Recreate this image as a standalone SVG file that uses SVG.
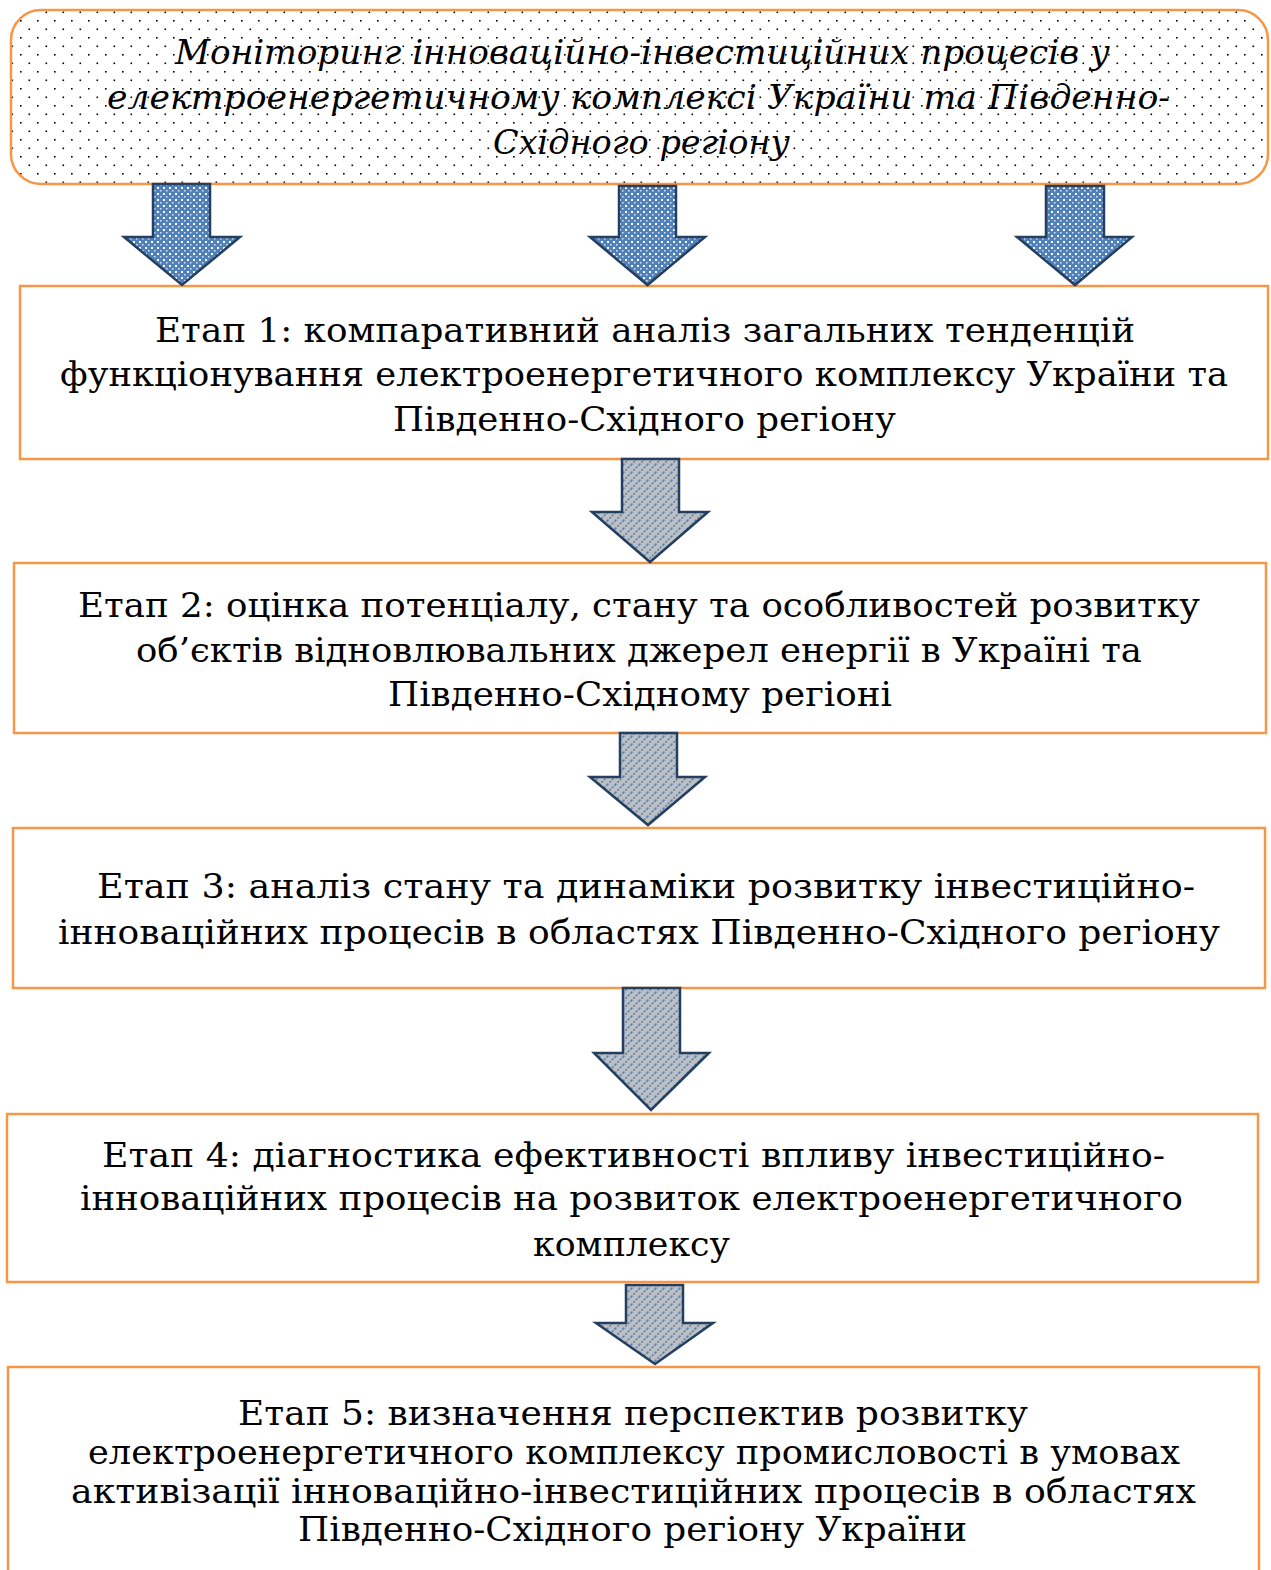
<svg xmlns="http://www.w3.org/2000/svg" width="1271" height="1570" viewBox="0 0 1271 1570">
<style>
.box{fill:#fff;stroke:#F79646;stroke-width:2.5}
.t{font-family:"DejaVu Serif","Liberation Serif",serif;font-size:33px;fill:#000}
.ti{font-family:"DejaVu Serif","Liberation Serif",serif;font-size:33px;font-style:italic;fill:#000}
.ab{fill:url(#pBlue);stroke:#243F60;stroke-width:2.5;stroke-linejoin:miter}
.ag{fill:url(#pGray);stroke:#243F60;stroke-width:2.5;stroke-linejoin:miter}
</style>
<defs>
<pattern id="pDots" width="17" height="17" patternUnits="userSpaceOnUse">
<rect width="17" height="17" fill="#fff"/>
<rect x="3" y="3" width="1.6" height="1.6" fill="#000"/>
<rect x="11.5" y="11.5" width="1.6" height="1.6" fill="#000"/>
</pattern>
<pattern id="pBlue" width="6" height="6" patternUnits="userSpaceOnUse">
<rect width="6" height="6" fill="#4F81BD"/>
<rect x="1" y="1" width="2" height="2" fill="#fff"/>
<rect x="4" y="4" width="1.5" height="1.5" fill="#DCE6F2"/>
</pattern>
<pattern id="pGray" width="8" height="8" patternUnits="userSpaceOnUse">
<rect width="8" height="8" fill="#BFBFBF"/>
<path d="M-1,9 L9,-1 M-1,1 L1,-1 M7,9 L9,7" stroke="#4F81BD" stroke-width="1.6" stroke-dasharray="2,1.5"/>
</pattern>
</defs>

<g id="node-top">
<rect x="11" y="10" width="1257" height="174" rx="30" ry="30" fill="url(#pDots)" stroke="#F79646" stroke-width="2.5"/>
<text class="ti" x="175" y="64" textLength="935" lengthAdjust="spacingAndGlyphs">Моніторинг інноваційно-інвестиційних процесів у</text>
<text class="ti" x="107" y="109" textLength="1063" lengthAdjust="spacingAndGlyphs">електроенергетичному комплексі України та Південно-</text>
<text class="ti" x="493" y="154" textLength="297" lengthAdjust="spacingAndGlyphs">Східного регіону</text>
</g>

<g id="node-stage1">
<rect class="box" x="20" y="286" width="1248" height="173"/>
<text class="t" x="155" y="342" textLength="980" lengthAdjust="spacingAndGlyphs">Етап 1: компаративний аналіз загальних тенденцій</text>
<text class="t" x="60" y="386" textLength="1168" lengthAdjust="spacingAndGlyphs">функціонування електроенергетичного комплексу України та</text>
<text class="t" x="393" y="431" textLength="503" lengthAdjust="spacingAndGlyphs">Південно-Східного регіону</text>
</g>

<g id="node-stage2">
<rect class="box" x="14" y="563" width="1252" height="170"/>
<text class="t" x="78" y="617" textLength="1122" lengthAdjust="spacingAndGlyphs">Етап 2: оцінка потенціалу, стану та особливостей розвитку</text>
<text class="t" x="136" y="662" textLength="1006" lengthAdjust="spacingAndGlyphs">об’єктів відновлювальних джерел енергії в Україні та</text>
<text class="t" x="388" y="706" textLength="504" lengthAdjust="spacingAndGlyphs">Південно-Східному регіоні</text>
</g>

<g id="node-stage3">
<rect class="box" x="13" y="828" width="1252" height="160"/>
<text class="t" x="97" y="898" textLength="1098" lengthAdjust="spacingAndGlyphs">Етап 3: аналіз стану та динаміки розвитку інвестиційно-</text>
<text class="t" x="58" y="944" textLength="1162" lengthAdjust="spacingAndGlyphs">інноваційних процесів в областях Південно-Східного регіону</text>
</g>

<g id="node-stage4">
<rect class="box" x="7" y="1114" width="1251" height="168"/>
<text class="t" x="102" y="1167" textLength="1063" lengthAdjust="spacingAndGlyphs">Етап 4: діагностика ефективності впливу інвестиційно-</text>
<text class="t" x="80" y="1210" textLength="1103" lengthAdjust="spacingAndGlyphs">інноваційних процесів на розвиток електроенергетичного</text>
<text class="t" x="533" y="1256" textLength="197" lengthAdjust="spacingAndGlyphs">комплексу</text>
</g>

<g id="node-stage5">
<rect class="box" x="8" y="1367" width="1251" height="215"/>
<text class="t" x="238" y="1425" textLength="790" lengthAdjust="spacingAndGlyphs">Етап 5: визначення перспектив розвитку</text>
<text class="t" x="88" y="1464" textLength="1092" lengthAdjust="spacingAndGlyphs">електроенергетичного комплексу промисловості в умовах</text>
<text class="t" x="71" y="1503" textLength="1125" lengthAdjust="spacingAndGlyphs">активізації інноваційно-інвестиційних процесів в областях</text>
<text class="t" x="298" y="1541" textLength="669" lengthAdjust="spacingAndGlyphs">Південно-Східного регіону України</text>
</g>

<g id="connectors">
<polygon class="ab" points="153,184 210,184 210,237 240,237 182,285 124,237 153,237"/>
<polygon class="ab" points="619,186 676,186 676,237 705,237 647.5,285 590,237 619,237"/>
<polygon class="ab" points="1046,186 1104,186 1104,237 1132,237 1075,285 1017,237 1046,237"/>
<polygon class="ag" points="622,459 679,459 679,512 708,512 650,562 592,512 622,512"/>
<polygon class="ag" points="620,733 677,733 677,777 705,777 648,825 590,777 620,777"/>
<polygon class="ag" points="623,988 680,988 680,1053 709,1053 651,1110 594,1053 623,1053"/>
<polygon class="ag" points="626,1285 683,1285 683,1323 713,1323 655,1364 596,1323 626,1323"/>
</g>
</svg>
